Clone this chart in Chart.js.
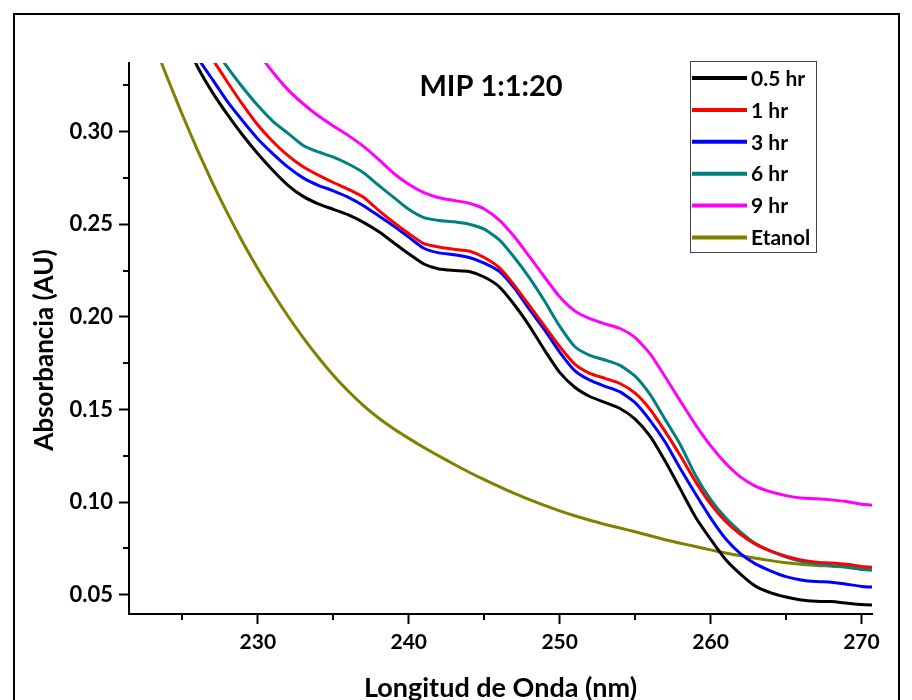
<!DOCTYPE html>
<html><head><meta charset="utf-8">
<script src="https://cdn.jsdelivr.net/npm/chart.js@4.4.1/dist/chart.umd.min.js"></script>
<style>
html,body{margin:0;padding:0;background:#fff;}
#wrap{position:relative;width:912px;height:700px;overflow:hidden;background:#fff;}
#frame{position:absolute;left:13px;top:13px;width:887px;height:720px;border:2px solid #000;box-sizing:border-box;}
canvas{position:absolute;left:0;top:0;}
</style></head><body>
<div id="wrap"><div id="frame"></div><canvas id="c" width="912" height="700"></canvas></div>
<script>
const chartTitle = 'MIP 1:1:20';
const xTitle = 'Longitud de Onda (nm)';
const yTitle = 'Absorbancia (AU)';
const seriesLabels = ['0.5 hr','1 hr','3 hr','6 hr','9 hr','Etanol'];
const seriesColors = ['#000000','#ff0000','#0000ff','#008080','#ff00ff','#808000'];
const xMajorTicks = [230,240,250,260,270];
const xMinorTicks = [225,235,245,255,265];
const yMajorTicks = [0.05,0.10,0.15,0.20,0.25,0.30];
const yMinorTicks = [0.075,0.125,0.175,0.225,0.275,0.325];

const wavelengths = [222,223,224,225,226,227,228,229,230,231,232,233,234,235,236,237,238,239,240,241,242,243,244,245,246,247,248,249,250,251,252,253,254,255,256,257,258,259,260,261,262,263,264,265,266,267,268,269,270,271];

const hr05 = [null,null,null,0.352,0.335,0.321,0.309,0.298,0.288,0.279,0.271,0.265,0.261,0.258,0.255,0.251,0.246,0.240,0.234,0.2285,0.2258,0.2250,0.2245,0.2215,0.2162,0.2065,0.195,0.182,0.170,0.162,0.157,0.1538,0.1505,0.1448,0.1355,0.122,0.107,0.092,0.080,0.069,0.061,0.0545,0.051,0.0488,0.0472,0.0465,0.0463,0.0455,0.0447,0.0443];
const hr1 = [null,null,null,0.365,0.351,0.339,0.3265,0.3145,0.3035,0.2945,0.2870,0.2810,0.2765,0.2725,0.2688,0.2645,0.2575,0.251,0.245,0.2395,0.2377,0.2365,0.2355,0.2320,0.2265,0.2170,0.2060,0.1950,0.1840,0.1745,0.1695,0.1668,0.1640,0.1588,0.1500,0.1380,0.1250,0.1112,0.0990,0.0895,0.0825,0.0772,0.0735,0.0708,0.0688,0.0676,0.0671,0.0664,0.0653,0.0647];
const hr3 = [null,null,null,0.355,0.340,0.328,0.316,0.3057,0.296,0.288,0.2808,0.275,0.271,0.268,0.2645,0.260,0.2545,0.249,0.243,0.237,0.2345,0.2335,0.232,0.229,0.2245,0.2155,0.204,0.193,0.181,0.171,0.1658,0.1625,0.1595,0.1537,0.1440,0.1323,0.1180,0.1045,0.0915,0.0802,0.0720,0.0665,0.0628,0.0598,0.0580,0.0571,0.0568,0.0557,0.0545,0.0540];
const hr6 = [null,null,null,null,0.360,0.3465,0.3345,0.3238,0.3140,0.3055,0.2990,0.2925,0.2890,0.2862,0.2825,0.2778,0.271,0.2645,0.258,0.2535,0.2520,0.2513,0.2500,0.2473,0.2415,0.2320,0.2210,0.2085,0.1950,0.1840,0.1792,0.1767,0.1738,0.1680,0.1580,0.1445,0.1310,0.1145,0.1015,0.0915,0.0838,0.0775,0.0735,0.0703,0.0680,0.0667,0.0658,0.0650,0.0638,0.0633];
const hr9 = [null,null,null,null,null,null,null,0.358,0.343,0.332,0.3225,0.315,0.3085,0.303,0.2978,0.292,0.2850,0.2775,0.2715,0.2670,0.2643,0.2628,0.2613,0.2582,0.2522,0.2432,0.2325,0.2215,0.2108,0.2032,0.1990,0.1962,0.1937,0.1888,0.1800,0.1675,0.1545,0.1418,0.1305,0.1210,0.1135,0.1085,0.1055,0.1035,0.1022,0.1018,0.1012,0.1003,0.0988,0.0982];
const etanol = [0.372,0.350,0.329,0.309,0.2900,0.2722,0.2557,0.2403,0.2260,0.2127,0.2003,0.1888,0.1782,0.1685,0.1598,0.1521,0.1454,0.1396,0.1344,0.1295,0.1249,0.1204,0.1161,0.1121,0.1083,0.1047,0.1013,0.0982,0.0953,0.0926,0.0902,0.0880,0.0860,0.0840,0.0818,0.0797,0.0778,0.0760,0.0742,0.0725,0.0710,0.0697,0.0684,0.0673,0.0665,0.0658,0.0654,0.0648,0.0637,0.0630];

const seriesValues = [hr05, hr1, hr3, hr6, hr9, etanol];

const FONT = 'Lato';

const datasets = seriesValues.map((vals, i) => ({
  label: seriesLabels[i],
  data: wavelengths.map((w, j) => ({x: w, y: vals[j]})),
  borderColor: seriesColors[i],
  backgroundColor: seriesColors[i],
  borderWidth: 3,
  pointRadius: 0,
  tension: 0.2,
  fill: false,
  clip: 0
}));

const extrasPlugin = {
  id: 'extras',
  afterDraw(chart) {
    const ctx = chart.ctx;
    const xs = chart.scales.x, ys = chart.scales.y;
    const ca = chart.chartArea;
    ctx.save();
    // minor ticks
    ctx.strokeStyle = '#000'; ctx.lineWidth = 2;
    xMinorTicks.forEach(v => {
      const px = Math.round(xs.getPixelForValue(v));
      ctx.beginPath(); ctx.moveTo(px, ca.bottom); ctx.lineTo(px, ca.bottom + 6); ctx.stroke();
    });
    yMinorTicks.forEach(v => {
      const py = Math.round(ys.getPixelForValue(v));
      ctx.beginPath(); ctx.moveTo(ca.left - 6, py); ctx.lineTo(ca.left, py); ctx.stroke();
    });
    // y axis title
    ctx.fillStyle = '#000';
    ctx.save();
    ctx.translate(44.5, 350);
    ctx.rotate(-Math.PI / 2);
    ctx.font = 'bold 26px ' + FONT;
    ctx.textAlign = 'center'; ctx.textBaseline = 'middle';
    ctx.fillText(yTitle, 0, 0);
    ctx.restore();
    // title
    ctx.font = 'bold 29px ' + FONT;
    ctx.textAlign = 'center'; ctx.textBaseline = 'middle';
    ctx.fillText(chartTitle, 491, 87);
    // legend box
    const L = 690, T = 61, W = 126, H = 191;
    ctx.strokeStyle = '#444'; ctx.lineWidth = 1;
    ctx.strokeRect(L + 0.5, T + 0.5, W, H);
    ctx.font = 'bold 21px ' + FONT;
    ctx.textAlign = 'left';
    chart.data.datasets.forEach((ds, i) => {
      const y = T + 17 + i * 31.9;
      ctx.strokeStyle = ds.borderColor; ctx.lineWidth = 4;
      ctx.beginPath(); ctx.moveTo(L + 2, y); ctx.lineTo(L + 57, y); ctx.stroke();
      ctx.fillStyle = '#000';
      ctx.fillText(ds.label, L + 61, y + 1);
    });
    ctx.restore();
  }
};

new Chart(document.getElementById('c'), {
  type: 'line',
  data: { datasets },
  options: {
    responsive: false,
    animation: false,
    devicePixelRatio: 1,
    layout: { padding: { top: 63, right: 40, left: 0, bottom: 0 } },
    plugins: { legend: { display: false }, tooltip: { enabled: false }, title: { display: false } },
    scales: {
      x: {
        type: 'linear',
        min: 221.46, max: 270.7,
        afterFit(s) { s.height = 86; },
        afterBuildTicks(s) { s.ticks = xMajorTicks.map(v => ({value: v})); },
        border: { display: true, color: '#000', width: 2 },
        grid: { drawOnChartArea: false, drawTicks: true, tickLength: 10, tickColor: '#000', tickWidth: 2 },
        ticks: { padding: 6, color: '#000', font: { family: FONT, weight: 'bold', size: 21 }, callback: v => String(v), maxRotation: 0 },
        title: { display: true, text: xTitle, color: '#000', font: { family: FONT, weight: 'bold', size: 27, lineHeight: 0.85 }, padding: { top: 0, bottom: 0 } }
      },
      y: {
        type: 'linear',
        min: 0.0396, max: 0.337,
        afterFit(s) { s.width = 129; },
        afterBuildTicks(s) { s.ticks = yMajorTicks.map(v => ({value: v})); },
        border: { display: true, color: '#000', width: 2 },
        grid: { drawOnChartArea: false, drawTicks: true, tickLength: 10, tickColor: '#000', tickWidth: 2 },
        ticks: { padding: 6, color: '#000', font: { family: FONT, weight: 'bold', size: 22 }, callback: v => Number(v).toFixed(2) },
        title: { display: false }
      }
    }
  },
  plugins: [extrasPlugin]
});
</script>
</body></html>
